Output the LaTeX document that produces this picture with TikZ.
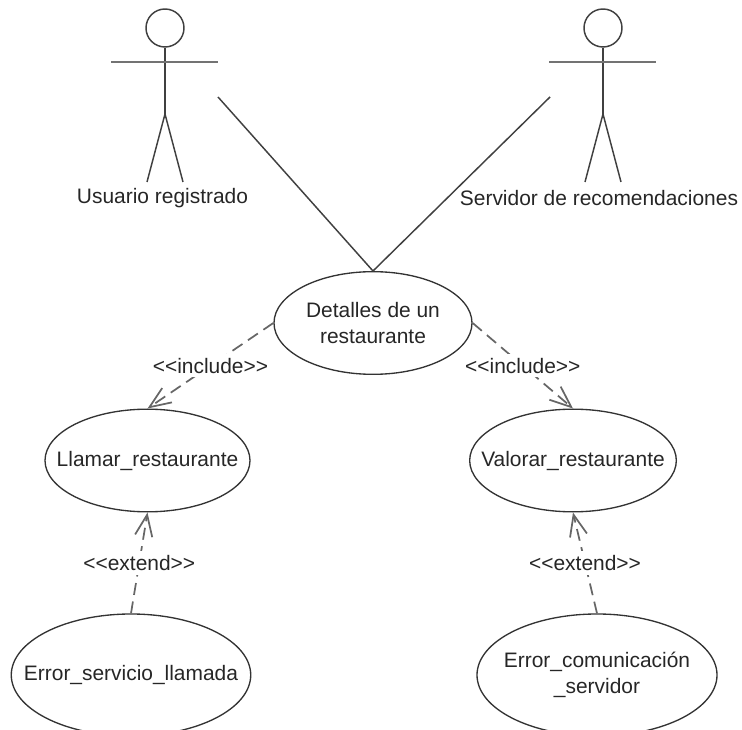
\documentclass[tikz,border=0pt]{standalone}
\usepackage{fontspec}
\setmainfont{Liberation Sans}
\usetikzlibrary{arrows.meta}
\usetikzlibrary{shapes.geometric}
\tikzset{texto/.style={font=\fontsize{15.7}{19.5}\selectfont,text=black!85}}
\tikzset{casouso/.style={draw=black!80,line width=1pt,ellipse,inner xsep=-25pt,inner ysep=0pt,align=center,texto}}
\tikzset{linea/.style={draw=black!75,line width=1.1pt}}
\tikzset{depende/.style={draw=black!60,line width=1.3pt,dash pattern=on 9pt off 5pt,-{Straight Barb[length=16pt,width=13pt]}}}
\tikzset{etiqueta/.style={fill=white,inner xsep=1pt,inner ysep=3pt,texto}}

\begin{document}
\begin{tikzpicture}[x=0.75pt,y=-0.75pt]
	\useasboundingbox (0,0) rectangle (742,730);
	\foreach \n/\x in {usuario/165,servidor/603}{
		\node[linea,draw,circle,minimum size=28.5pt,inner sep=0pt] (\n) at (\x,28) {};
		\coordinate (\n izq) at (\x-54,62);
		\coordinate (\n der) at (\x+53,62);
		\coordinate (\n cadera) at (\x,114);
		\coordinate (\n pieizq) at (\x-18,182);
		\coordinate (\n pieder) at (\x+18,182);
		\draw[linea] (\n) -- (\n cadera);
		\draw[linea,draw=black!55,line width=1.4pt] (\n izq) -- (\n der);
		\draw[linea] (\n pieizq) -- (\n cadera) -- (\n pieder);
	}
	\node[texto] (usuariotxt) at (162.5,198) {Usuario registrado};
	\node[texto] (servidortxt) at (599,198) {Servidor de recomendaciones};
	
	\node[casouso,minimum width=148.5pt,minimum height=77pt] (detalles) at (373,323) {Detalles de un\\restaurante};
	\node[casouso,minimum width=153.75pt,minimum height=77pt] (llamar) at (147.5,460.5) {Llamar\_restaurante};
	\node[casouso,minimum width=155pt,minimum height=77pt] (valorar) at (573,460.5) {Valorar\_restaurante};
	\node[casouso,minimum width=179.6pt,minimum height=91.5pt] (errorllamada) at (131,675) {Error\_servicio\_llamada};
	\node[casouso,minimum width=180pt,minimum height=91.5pt] (errorservidor) at (597,675) {Error\_comunicación\\\_servidor};
	
	\coordinate (usuariobrazo) at (218,97);
	\coordinate (servidorbrazo) at (550,97);
	\draw[linea] (usuariobrazo) -- (detalles.north);
	\draw[linea] (servidorbrazo) -- (detalles.north);
	
	\draw[depende] (detalles.west) -- node[etiqueta] {<{}<include>{}>} (llamar.north);
	\draw[depende] (detalles.east) -- node[etiqueta] {<{}<include>{}>} (valorar.north);
	\draw[depende] (errorllamada.north) -- node[etiqueta] {<{}<extend>{}>} (llamar.south);
	\draw[depende] (errorservidor.north) -- node[etiqueta] {<{}<extend>{}>} (valorar.south);
\end{tikzpicture}
\end{document}
